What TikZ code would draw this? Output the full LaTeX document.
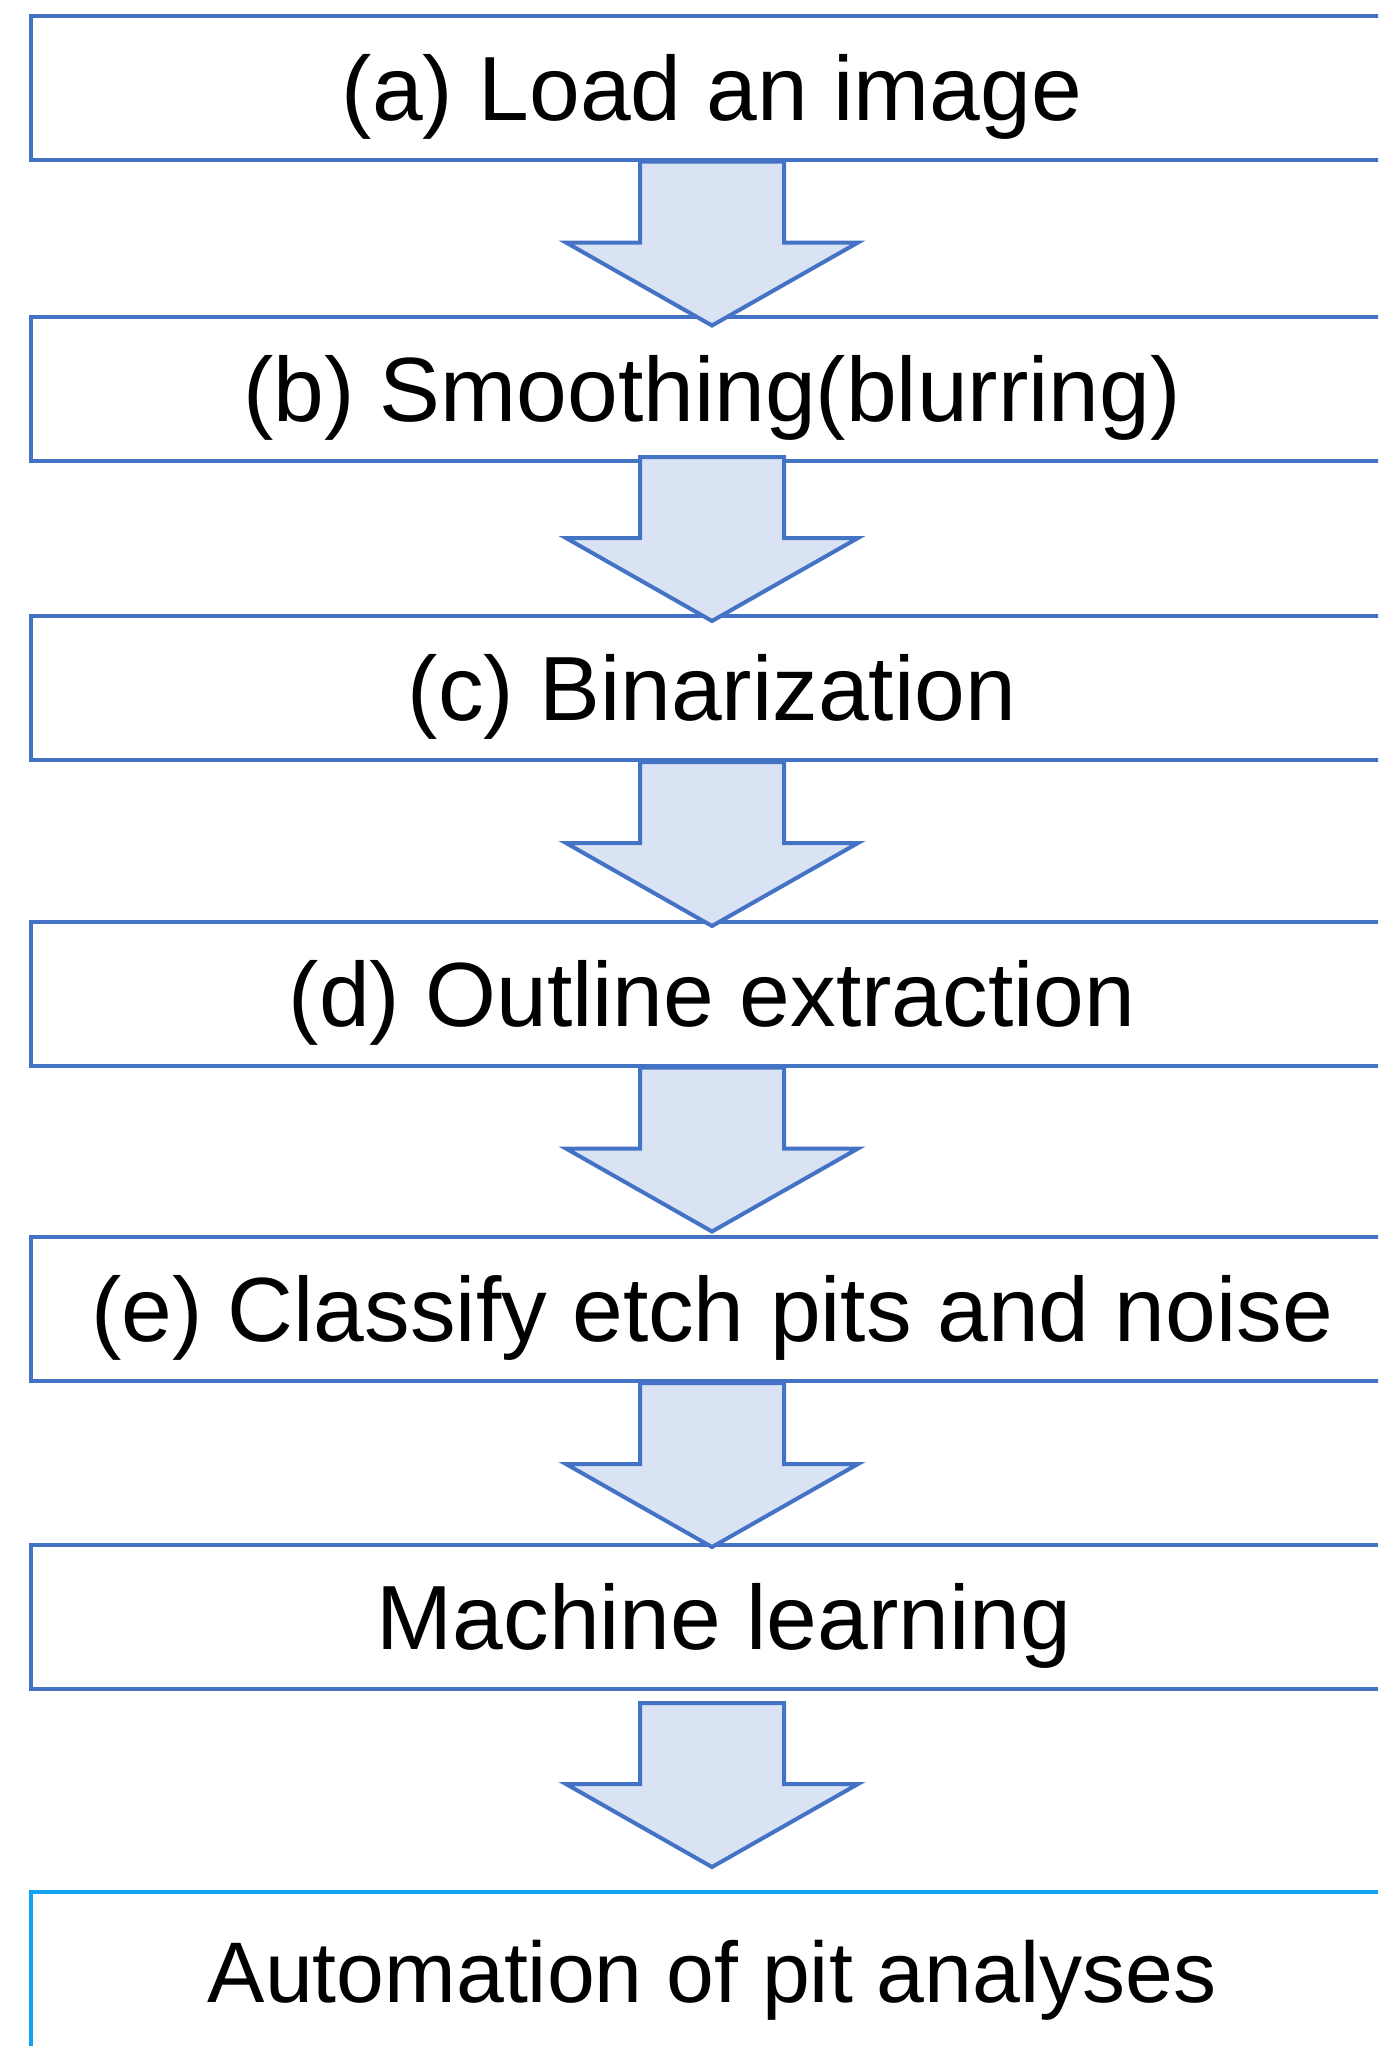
\documentclass[tikz,border=0pt]{standalone}
\usepackage{fontspec}
\setmainfont{Liberation Sans}

\definecolor{stageblue}{HTML}{4472C4}
\definecolor{arrowfill}{HTML}{DAE3F3}
\definecolor{lastblue}{HTML}{12A3F0}

\tikzset{
  stage/.style={draw=stageblue, line width=2pt, minimum width=681pt,
    minimum height=72pt, inner sep=0pt, text height=32.6pt, text depth=0pt,
    font=\fontsize{45.6}{50}\selectfont},
  flowarrow/.style={draw=stageblue, fill=arrowfill, line width=2pt, line join=miter}
}

\begin{document}
\begin{tikzpicture}[x=0.5pt,y=-0.5pt]
  \useasboundingbox (0,0) rectangle (1378,2046);
  \clip (0,0) rectangle (1378,2046);

  % Stages
  \node[stage] (load)     at (712,87.5)  {(a) Load an image};
  \node[stage] (smooth)   at (712,389)   {(b) Smoothing(blurring)};
  \node[stage] (binary)   at (712,688)   {(c) Binarization};
  \node[stage] (outline)  at (712,993.5) {(d) Outline extraction};
  \node[stage] (classify) at (712,1309)  {(e) Classify etch pits and noise};
  \node[stage] (learn)    at (712,1617)  {\hspace*{12pt}Machine learning};
  \node[stage, draw=lastblue, minimum height=80pt, text height=30.8pt,
    font=\fontsize{43}{48}\selectfont] (auto) at (712,1972) {Automation of pit analyses};

  % Block arrows
  \foreach \from/\gap in {load/0,smooth/-6,binary/0,outline/0,classify/0,learn/12}
    \draw[flowarrow] (\from.south) ++(-72,\gap) -- ++(0,81) -- ++(-74,0)
      -- ++(146,83) -- ++(146,-83) -- ++(-74,0) -- ++(0,-81) -- cycle;
\end{tikzpicture}
\end{document}
